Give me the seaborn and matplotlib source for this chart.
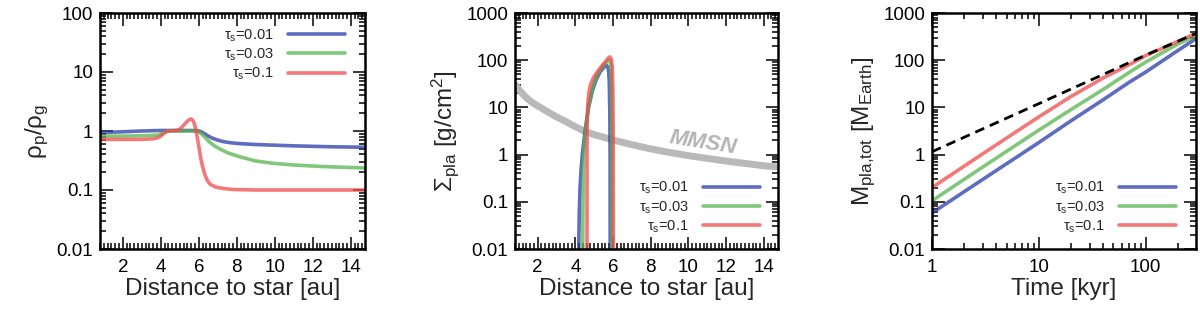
import numpy as np
import pandas as pd
import matplotlib
matplotlib.use("Agg")
import matplotlib.pyplot as plt
import matplotlib.ticker as mticker
import seaborn as sns

# ---------------- data ----------------
labels = [r"$\tau_s$=0.01", r"$\tau_s$=0.03", r"$\tau_s$=0.1"]

# panel 1: rho_p / rho_g vs distance
r1_blue = [0.8, 2.0, 3.0, 4.0, 5.0, 5.9, 6.1, 6.3, 6.5, 6.7, 7.0, 7.3, 7.7, 8.2, 9.0, 11.0, 13.0, 14.8]
v1_blue = [0.94, 0.97, 1.0, 1.02, 1.02, 1.02, 0.98, 0.9, 0.82, 0.76, 0.7, 0.66, 0.63, 0.61, 0.59, 0.56, 0.54, 0.53]
r1_green = [0.8, 2.0, 3.0, 3.8, 4.0, 4.2, 4.36, 5.0, 5.9, 6.1, 6.3, 6.5, 6.7, 6.9, 7.2, 7.5, 8.1, 9.0, 9.85, 11.0, 12.5, 14.8]
v1_green = [0.82, 0.82, 0.83, 0.85, 0.88, 0.95, 1.0, 1.0, 1.0, 0.92, 0.8, 0.68, 0.6, 0.54, 0.48, 0.43, 0.37, 0.31, 0.285, 0.265, 0.25, 0.236]
r1_red = [0.8, 2.0, 3.0, 3.64, 3.85, 4.02, 4.2, 4.36, 4.6, 4.89, 5.0, 5.1, 5.2, 5.3, 5.4, 5.5, 5.6, 5.68,
          5.75, 5.82, 5.9, 6.0, 6.1, 6.2, 6.3, 6.45, 6.6, 6.9, 7.3, 7.8, 9.0, 12.0, 14.8]
v1_red = [0.72, 0.72, 0.72, 0.74, 0.77, 0.83, 0.93, 1.0, 1.01, 1.03, 1.08, 1.15, 1.25, 1.35, 1.47, 1.56, 1.6, 1.52,
          1.38, 1.15, 0.85, 0.55, 0.35, 0.25, 0.19, 0.145, 0.125, 0.112, 0.106, 0.102, 0.1, 0.1, 0.1]

# panel 2: Sigma_pla vs distance
r2_mmsn = [0.8, 1.0, 1.25, 1.5, 1.75, 2.0, 2.5, 3.0, 3.5, 4.0, 4.5, 5.0, 6.0, 7.0, 8.0, 9.0,
           10.0, 11.0, 12.0, 13.0, 14.0, 14.8]
v2_mmsn = [31.0, 24.0, 18.5, 14.8, 12.4, 10.8, 8.2, 6.3, 5.0, 3.9, 3.1, 2.65, 2.04, 1.62, 1.32, 1.11,
           0.95, 0.83, 0.73, 0.65, 0.58, 0.54]
r2_blue = [4.18, 4.19, 4.21, 4.25, 4.3, 4.38, 4.5, 4.6, 4.7, 4.9, 5.1, 5.3, 5.5, 5.6, 5.66, 5.72,
           5.77, 5.8, 5.83, 5.845, 5.85]
v2_blue = [0.005, 0.02, 0.06, 0.2, 0.45, 1.1, 2.8, 5.5, 10.0, 22.0, 38.0, 55.0, 70.0, 76.0, 77.0, 72.0,
           58.0, 35.0, 8.0, 1.0, 0.005]
r2_green = [4.39, 4.4, 4.42, 4.45, 4.5, 4.55, 4.7, 4.9, 5.1, 5.4, 5.7, 5.78, 5.84, 5.88, 5.91, 5.93, 5.94]
v2_green = [0.005, 0.05, 0.3, 1.0, 2.2, 3.5, 10.0, 25.0, 45.0, 70.0, 95.0, 100.0, 98.0, 80.0, 40.0, 5.0, 0.005]
r2_red = [4.62, 4.62, 4.63, 4.65, 4.68, 4.73, 4.8, 4.95, 5.1, 5.4, 5.7, 5.78, 5.85, 5.91, 5.96, 5.99, 6.01, 6.02]
v2_red = [0.005, 1.0, 4.0, 9.0, 15.0, 22.0, 30.0, 42.0, 52.0, 75.0, 105.0, 115.0, 117.0, 105.0, 70.0, 25.0, 3.0, 0.005]

# panel 3: total planetesimal mass vs time
t3 = [1.0, 3.0, 10.0, 20.0, 40.0, 70.0, 100.0, 200.0, 296.0]
m3_blue = [0.058, 0.30, 1.8, 5.2, 14.5, 34.0, 56.0, 160.0, 287.0]
m3_green = [0.105, 0.55, 3.3, 9.0, 24.0, 55.0, 91.0, 220.0, 330.0]
m3_red = [0.20, 1.05, 6.3, 17.0, 42.0, 80.0, 125.0, 250.0, 368.0]
t3_dash = [1.0, 10.0, 100.0, 296.0]
m3_dash = [1.15, 12.0, 128.0, 370.0]

# ---------------- style ----------------
sns.set_style("ticks")
plt.rcParams["font.family"] = ["Liberation Sans", "DejaVu Sans"]
plt.rcParams["mathtext.default"] = "regular"
plt.rcParams["axes.linewidth"] = 1.8

c_blue = "#283caa"
c_green = "#55b54d"
c_red = "#f14b4b"
alpha = 0.75
lw = 2.6

fig = plt.figure(figsize=(12, 3.15), dpi=100)
ax1 = fig.add_axes([100 / 1200, 66 / 315, 265 / 1200, 236 / 315])
ax2 = fig.add_axes([515 / 1200, 66 / 315, 263 / 1200, 236 / 315])
ax3 = fig.add_axes([932 / 1200, 66 / 315, 264 / 1200, 236 / 315])

def line(ax, x, y, color, **kw):
    sns.lineplot(x=x, y=y, ax=ax, color=color, sort=False, estimator=None,
                 legend=False, **kw)
    ln = ax.get_lines()[-1]
    ln.set_solid_joinstyle("round")
    return ln

def style_axis(ax):
    ax.tick_params(which="both", direction="in", top=True, right=True,
                   labelsize=13.5, width=1.1, colors="black")
    ax.tick_params(which="major", length=9, pad=5)
    ax.tick_params(which="minor", length=4.5)
    ax.tick_params(axis="x", which="major", pad=7)
    for s in ax.spines.values():
        s.set_linewidth(1.8)
        s.set_color("black")

fmt = mticker.FuncFormatter(lambda v, p: "%g" % v)

leg_kw = dict(frameon=False, fontsize=10.5, markerfirst=False, handlelength=3.9,
              handletextpad=1.0, labelspacing=0.2, borderpad=0, borderaxespad=0)

# panel 1
h = []
for x, y, c in [(r1_blue, v1_blue, c_blue), (r1_green, v1_green, c_green),
                (r1_red, v1_red, c_red)]:
    h.append(line(ax1, x, y, c, lw=lw, alpha=alpha))
ax1.set_yscale("log")
ax1.set_xlim(0.8, 14.75)
ax1.set_ylim(0.01, 100)
ax1.xaxis.set_major_locator(mticker.MultipleLocator(2))
ax1.xaxis.set_minor_locator(mticker.MultipleLocator(0.2))
ax1.yaxis.set_major_locator(mticker.LogLocator(base=10))
ax1.yaxis.set_minor_locator(mticker.LogLocator(base=10, subs=np.arange(2, 10)))
ax1.yaxis.set_major_formatter(fmt)
ax1.yaxis.set_minor_formatter(mticker.NullFormatter())
ax1.set_xlabel("Distance to star [au]", fontsize=17.5, labelpad=2)
ax1.set_ylabel(r"$\rho_p/\rho_g$", fontsize=17.5, labelpad=4)
style_axis(ax1)
ax1.legend(h, labels, loc="upper right", bbox_to_anchor=(0.925, 0.94), **leg_kw)

# panel 2
line(ax2, r2_mmsn, v2_mmsn, "#b9b9b9", lw=5)
h = []
for x, y, c in [(r2_blue, v2_blue, c_blue), (r2_green, v2_green, c_green),
                (r2_red, v2_red, c_red)]:
    h.append(line(ax2, x, y, c, lw=lw, alpha=alpha))
ax2.set_yscale("log")
ax2.set_xlim(0.8, 14.75)
ax2.set_ylim(0.01, 1000)
ax2.xaxis.set_major_locator(mticker.MultipleLocator(2))
ax2.xaxis.set_minor_locator(mticker.MultipleLocator(0.2))
ax2.yaxis.set_major_locator(mticker.LogLocator(base=10))
ax2.yaxis.set_minor_locator(mticker.LogLocator(base=10, subs=np.arange(2, 10)))
ax2.yaxis.set_major_formatter(fmt)
ax2.yaxis.set_minor_formatter(mticker.NullFormatter())
ax2.set_xlabel("Distance to star [au]", fontsize=17.5, labelpad=2)
ax2.set_ylabel(r"$\Sigma_{pla}$ [g/cm$^2$]", fontsize=17.5, labelpad=4)
ax2.text(10.8, 1.8, "MMSN", color="#b4b4b4", fontsize=16, fontweight="bold",
         fontstyle="italic", rotation=-9, ha="center", va="center")
style_axis(ax2)
ax2.legend(h, labels, loc="lower right", bbox_to_anchor=(0.932, 0.06), **leg_kw)

# panel 3
h = []
for y, c in [(m3_blue, c_blue), (m3_green, c_green), (m3_red, c_red)]:
    h.append(line(ax3, t3, y, c, lw=lw, alpha=alpha))
line(ax3, t3_dash, m3_dash, "black", lw=2.0, linestyle=(0, (3.5, 2.2)))
ax3.set_xscale("log")
ax3.set_yscale("log")
ax3.set_xlim(1, 296)
ax3.set_ylim(0.01, 1000)
for a in (ax3.xaxis, ax3.yaxis):
    a.set_major_locator(mticker.LogLocator(base=10))
    a.set_minor_locator(mticker.LogLocator(base=10, subs=np.arange(2, 10)))
    a.set_major_formatter(fmt)
    a.set_minor_formatter(mticker.NullFormatter())
ax3.set_xlabel("Time [kyr]", fontsize=17.5, labelpad=2)
ax3.set_ylabel(r"M$_{pla{,}tot}$ [M$_{Earth}$]", fontsize=17.5, labelpad=4)
style_axis(ax3)
ax3.legend(h, labels, loc="lower right", bbox_to_anchor=(0.924, 0.06), **leg_kw)

fig.savefig("out.png", dpi=100)
